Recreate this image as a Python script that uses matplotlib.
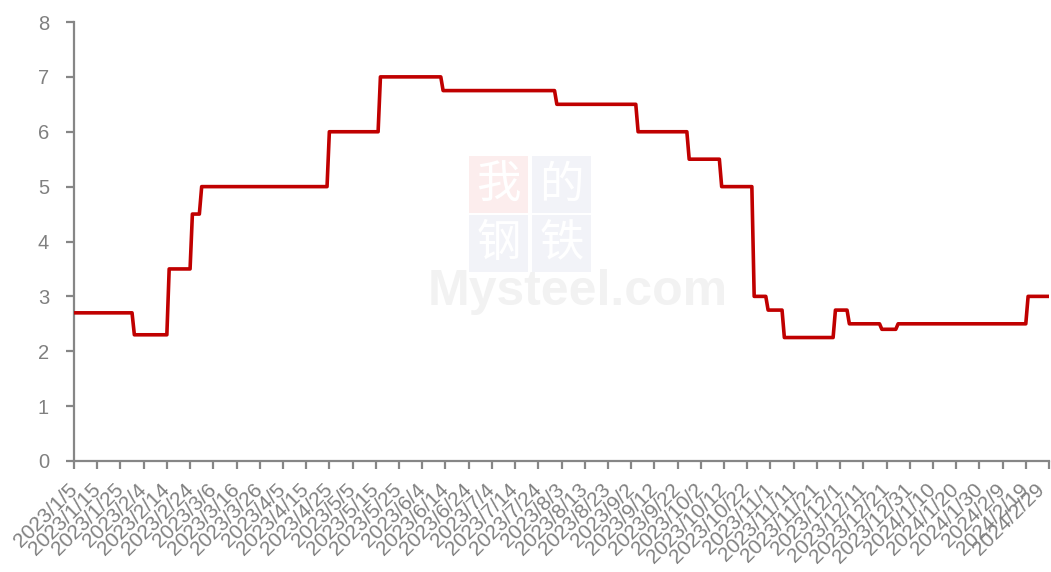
import matplotlib
matplotlib.use("Agg")
import matplotlib.pyplot as plt
from matplotlib.patches import Rectangle
from matplotlib.transforms import ScaledTranslation
import pandas as pd

# ---- data: rate level and the dates on which each level starts ----
change_dates = ['2023-01-05', '2023-01-31', '2023-02-15', '2023-02-25', '2023-03-01',
                '2023-04-25', '2023-05-17', '2023-06-13', '2023-08-01', '2023-09-05',
                '2023-09-27', '2023-10-11', '2023-10-25', '2023-10-31', '2023-11-07',
                '2023-11-29', '2023-12-05', '2023-12-19', '2023-12-26', '2024-02-20']
levels = [2.7, 2.3, 3.5, 4.5, 5.0,
          6.0, 7.0, 6.75, 6.5, 6.0,
          5.5, 5.0, 3.0, 2.75, 2.25,
          2.75, 2.5, 2.4, 2.5, 3.0]
start_date = '2023-01-05'
end_date = '2024-02-29'
y_ticks = [0, 1, 2, 3, 4, 5, 6, 7, 8]

# daily series held at each level until the next change
s = pd.Series(levels, index=pd.to_datetime(change_dates))
days = pd.date_range(start_date, end_date, freq='D')
daily = s.reindex(days).ffill()

plt.rcParams['font.family'] = ['Liberation Sans', 'DejaVu Sans']
grey = '#808080'
axis_grey = '#868686'

fig = plt.figure(figsize=(10.51, 5.72), dpi=100)
ax = fig.add_axes([74 / 1051, 111 / 572, 975 / 1051, 439 / 572])
ax.set_zorder(2)

# ---- faint watermark (behind the axes) ----
def fx(px):
    return px / 1051
def fy(py):
    return 1 - py / 572
box_specs = [(469, 156, '#FCEDED', '我'), (532, 156, '#F2F3F8', '的'),
             (469, 215, '#F2F3F8', '钢'), (532, 215, '#F2F3F8', '铁')]
for bx, by, bc, ch in box_specs:
    fig.patches.append(Rectangle((fx(bx), fy(by + 57)), 59 / 1051, 57 / 572,
                                 transform=fig.transFigure, facecolor=bc,
                                 edgecolor='none', zorder=0))
    fig.text(fx(bx + 29.5), fy(by + 28.5), ch, color='white', fontsize=32,
             ha='center', va='center', family=['Noto Sans CJK SC'], zorder=1)
fig.text(fx(428), fy(305), 'Mysteel.com', color='#F2F2F2', fontsize=36,
         fontweight='bold', ha='left', va='baseline',
         family=['Liberation Sans Narrow', 'Liberation Sans'], zorder=1)

ax.set_facecolor('none')
ax.plot(daily.index, daily.values, color='#C00000', linewidth=2.6,
        solid_joinstyle='round', zorder=3)

ax.set_xlim(pd.Timestamp(start_date), pd.Timestamp(end_date))
ax.set_ylim(0, 8)
ax.set_yticks(y_ticks)

xt = pd.date_range(start_date, end_date, freq='10D')
ax.set_xticks(xt)
ax.set_xticklabels([f"{d.year}/{d.month}/{d.day}" for d in xt],
                   rotation=45, ha='right', va='center', rotation_mode='anchor')

for side in ['top', 'right']:
    ax.spines[side].set_visible(False)
for side in ['left', 'bottom']:
    ax.spines[side].set_color(axis_grey)
    ax.spines[side].set_linewidth(1.6)

ax.tick_params(axis='y', direction='out', length=6, width=1.6, color=axis_grey,
               labelcolor=grey, labelsize=14.5, pad=12)
ax.tick_params(axis='x', direction='out', length=6, width=1.6, color=axis_grey,
               labelcolor=grey, labelsize=15, pad=12.5)

# keep the last label inside the figure edge
last = ax.get_xticklabels()[-1]
last.set_transform(last.get_transform() + ScaledTranslation(-7 / 100, 0, fig.dpi_scale_trans))

fig.savefig('out.png', dpi=100)
